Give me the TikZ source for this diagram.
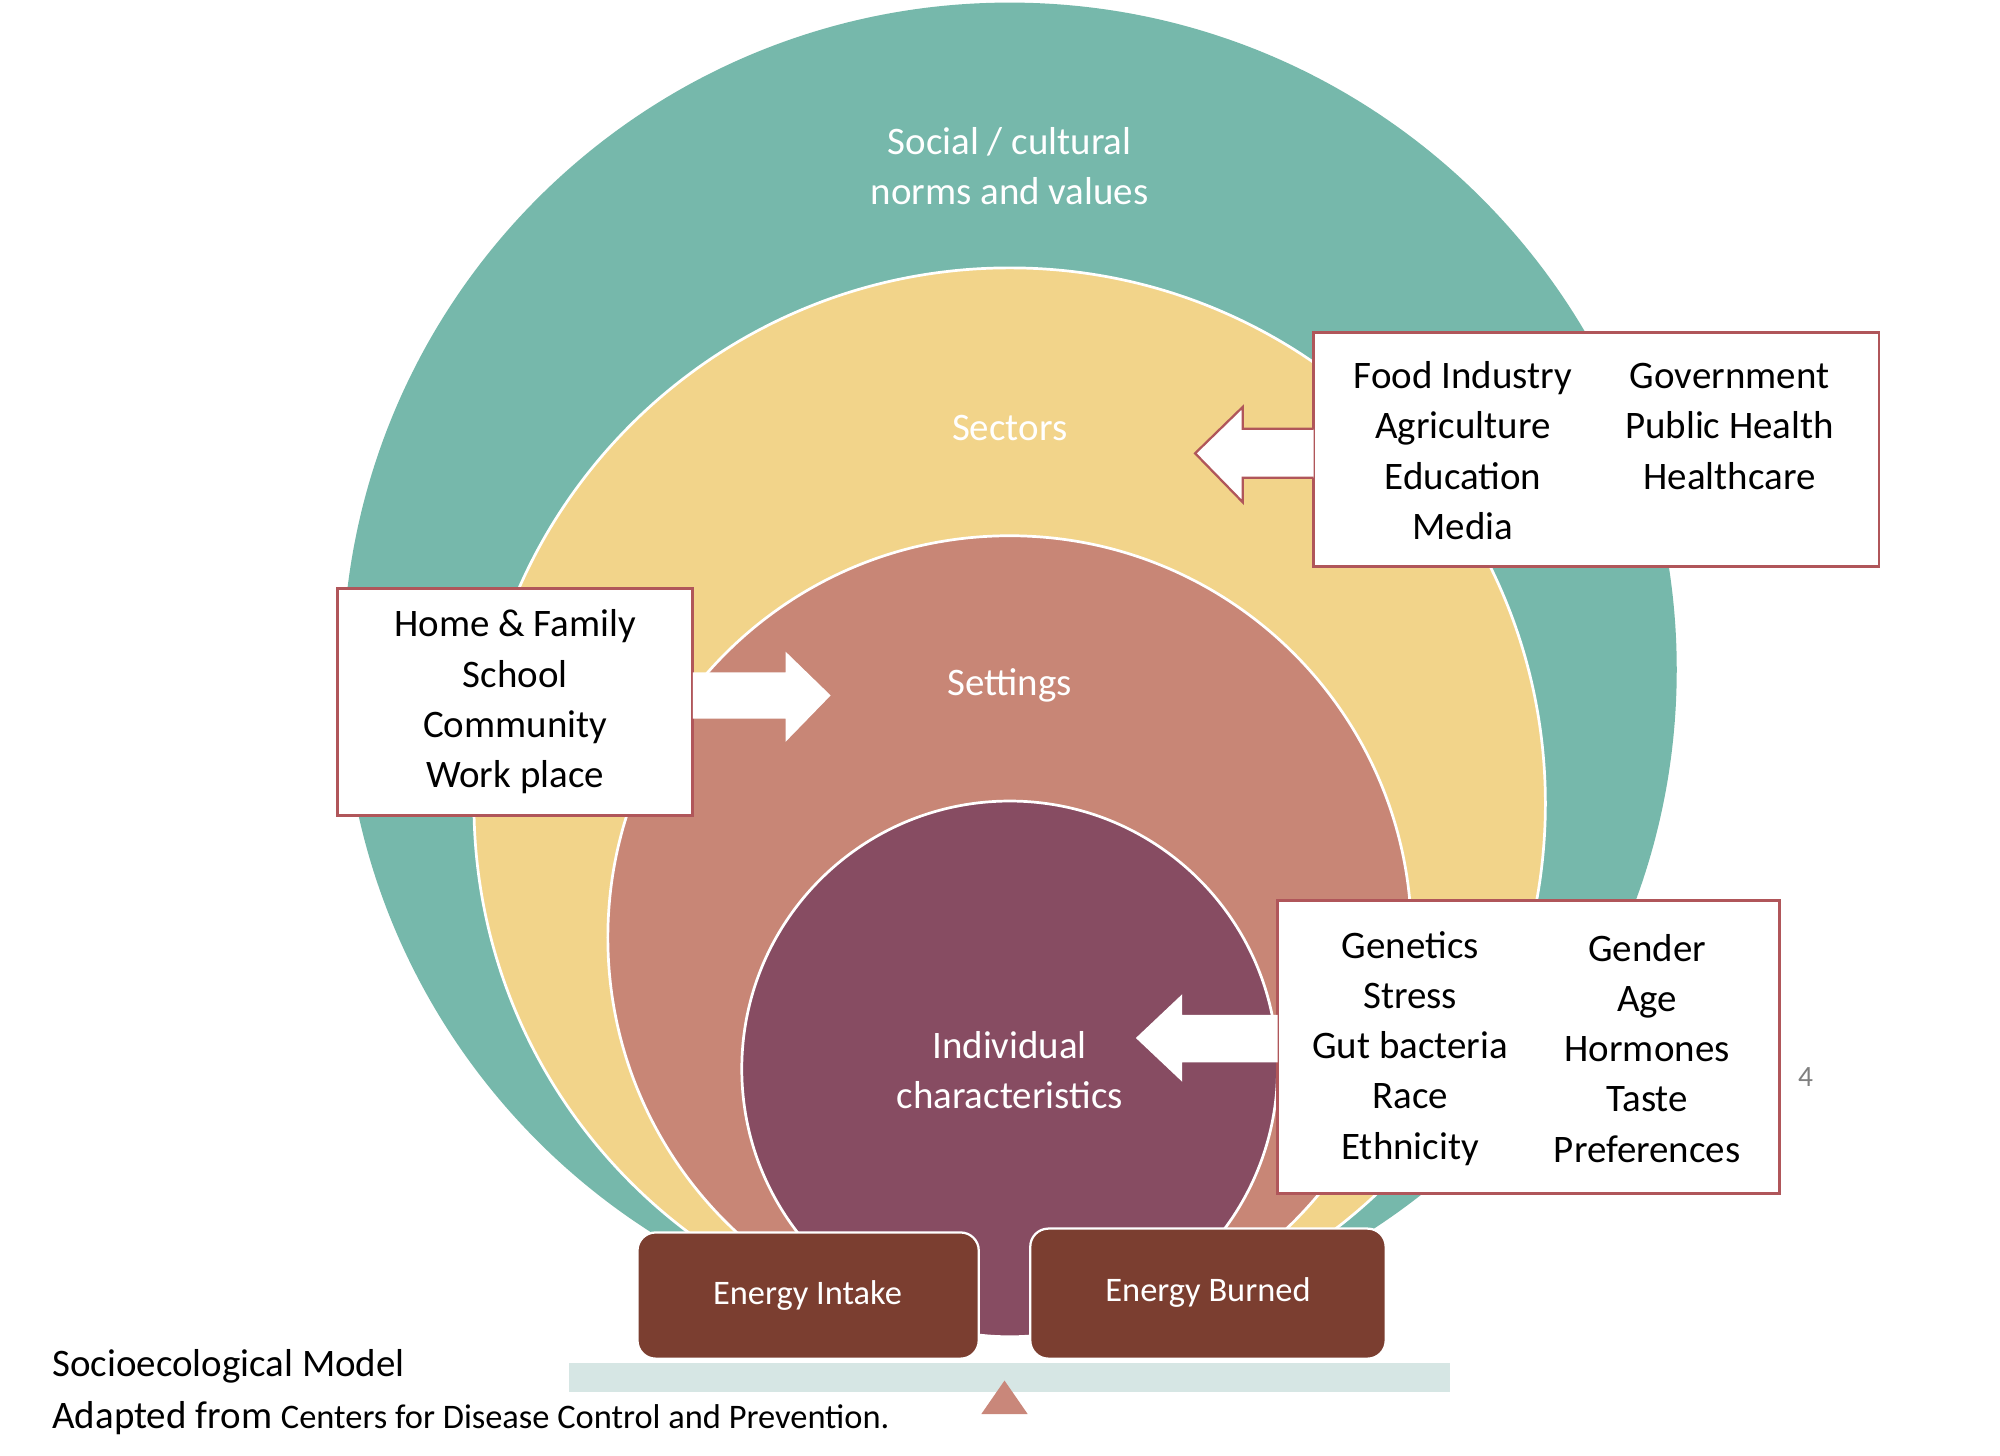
\documentclass[tikz,border=0pt]{standalone}
\usepackage{fontspec}
\setmainfont{Carlito}
\begin{document}
\begin{tikzpicture}[x=0.01cm,y=-0.01cm,
  ring/.style={draw=white,line width=0.6pt},
  lbl/.style={align=center,font=\fontsize{8.6}{11.1}\selectfont,inner sep=0pt},
  wlbl/.style={lbl,text=white},
  box/.style={draw=boxred,fill=white,line width=0.6pt},
  ebox/.style={fill=energy,rounded corners=4pt,draw=white,line width=0.5pt}]
\definecolor{teal}{HTML}{76B8AB}
\definecolor{yel}{HTML}{F2D48A}
\definecolor{salm}{HTML}{C88676}
\definecolor{purp}{HTML}{874C62}
\definecolor{energy}{HTML}{7B3E30}
\definecolor{boxred}{HTML}{B0565A}
\useasboundingbox (0,0) rectangle (1553,1130);
\begin{scope}
\clip (0,0) rectangle (1553,958);
\fill[teal] (784,520) circle (518);
\draw[ring,fill=yel] (784,624) circle (416);
\draw[ring,fill=salm] (784,728) circle (312);
\end{scope}
\draw[ring,fill=purp] (784,830) circle (208);
\node[wlbl] (social) at (784,129) {Social / cultural\\norms and values};
\node[wlbl] (sectors) at (784,332) {Sectors};
\node[wlbl] (settings) at (784,532) {Settings};
\node[wlbl] (indiv) at (784,831) {Individual\\characteristics};
% boxes
\draw[box] (1020,258) rectangle (1459,440);
\node[lbl] (sec1) at (1136,350) {Food Industry\\Agriculture\\Education\\Media};
\node[lbl] (sec2) at (1343,331) {Government\\Public Health\\Healthcare};
\draw[box] (262,457) rectangle (538,633);
\node[lbl] (set1) at (400,545) {Home \& Family\\School\\Community\\Work place};
\draw[box] (992,699) rectangle (1382,927);
\node[lbl] (ind1) at (1095,814) {Genetics\\Stress\\Gut bacteria\\Race\\Ethnicity};
\node[lbl] (ind2) at (1279,814) {Gender\\Age\\Hormones\\Taste\\Preferences};
% block arrows
\draw[fill=white,draw=boxred,line width=0.5pt] (1020,333) -- (965,333) -- (965,316) -- (928,352) -- (965,390) -- (965,371) -- (1020,371);
\fill[white] (538,522) -- (610,522) -- (610,506) -- (645,540) -- (610,576) -- (610,558) -- (538,558) -- cycle;
\fill[white] (992,788) -- (918,788) -- (918,772) -- (882,806) -- (918,840) -- (918,825) -- (992,825) -- cycle;
% energy
\fill[fill={rgb,255:red,214;green,230;blue,228}] (442,1058) rectangle (1126,1081);
\fill[fill={rgb,255:red,201;green,135;blue,122}] (762,1098) -- (780,1072) -- (798,1098) -- cycle;
\draw[ebox] (495,957) rectangle (760,1055);
\node[wlbl,font=\fontsize{7.6}{9}\selectfont] (intake) at (627,1006) {Energy Intake};
\draw[ebox] (800,954) rectangle (1076,1055);
\node[wlbl,font=\fontsize{7.6}{9}\selectfont] (burned) at (938,1004) {Energy Burned};
\node[lbl,text=gray,font=\fontsize{6.5}{8}\selectfont] (pg) at (1402,836) {4};
\node[anchor=west,inner sep=0pt,font=\fontsize{8.6}{11}\selectfont] (cap1) at (40,1061) {Socioecological Model};
\node[anchor=west,inner sep=0pt,font=\fontsize{8.6}{11}\selectfont] (cap2) at (40,1101) {Adapted from {\fontsize{7.6}{9}\selectfont Centers for Disease Control and Prevention.}};
\end{tikzpicture}
\end{document}
